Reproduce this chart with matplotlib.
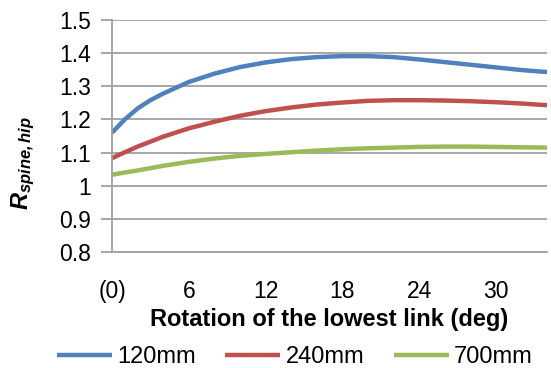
import numpy as np
import matplotlib.pyplot as plt

plt.rcParams['font.family'] = ['Liberation Sans', 'DejaVu Sans']
plt.rcParams['mathtext.fontset'] = 'custom'
plt.rcParams['mathtext.rm'] = 'Liberation Sans'
plt.rcParams['mathtext.it'] = 'Liberation Sans:italic'
plt.rcParams['mathtext.bf'] = 'Liberation Sans:bold'
plt.rcParams['mathtext.bfit'] = 'Liberation Sans:italic:bold'

# rotation of the lowest link (deg)
deg = [0, 1, 2, 3, 4, 6, 8, 10, 12, 14, 16, 18, 20, 22, 24, 26, 28, 30, 32, 34]
r_120 = [1.160, 1.200, 1.233, 1.258, 1.278, 1.313, 1.338, 1.358, 1.372, 1.382,
         1.388, 1.391, 1.391, 1.388, 1.381, 1.373, 1.365, 1.357, 1.349, 1.343]
r_240 = [1.083, 1.101, 1.118, 1.133, 1.148, 1.173, 1.193, 1.211, 1.225, 1.236,
         1.245, 1.251, 1.256, 1.258, 1.258, 1.257, 1.255, 1.252, 1.248, 1.243]
r_700 = [1.033, 1.040, 1.046, 1.053, 1.060, 1.072, 1.082, 1.090, 1.096, 1.101,
         1.106, 1.110, 1.113, 1.115, 1.117, 1.118, 1.118, 1.117, 1.116, 1.115]
labels = ['120mm', '240mm', '700mm']
colors = ['#4F81BD', '#C0504D', '#9BBB59']

x_ticks = [0, 6, 12, 18, 24, 30]
x_ticklabels = ['(0)', '6', '12', '18', '24', '30']
y_ticks = [0.8, 0.9, 1.0, 1.1, 1.2, 1.3, 1.4, 1.5]
y_ticklabels = ['0.8', '0.9', '1', '1.1', '1.2', '1.3', '1.4', '1.5']

fig = plt.figure(figsize=(5.51, 3.68), dpi=100)
ax = fig.add_axes([112 / 551, 1 - 252 / 368, 435 / 551, 232 / 368])

for ys, lab, c in zip([r_120, r_240, r_700], labels, colors):
    ax.plot(deg, ys, color=c, lw=3.2, label=lab, solid_capstyle='butt')

ax.set_xlim(0, 34)
ax.set_ylim(0.8, 1.5)
ax.set_xticks(x_ticks)
ax.set_xticklabels(x_ticklabels)
ax.set_yticks(y_ticks)
ax.set_yticklabels(y_ticklabels)
ax.tick_params(axis='x', length=0, pad=20, labelsize=16.5)
ax.tick_params(axis='y', length=8, width=1.3, color='#A0A0A0', labelsize=16.5, pad=7)

ax.grid(axis='y', color='#A0A0A0', lw=1.3)
ax.set_axisbelow(True)
for s in ['top', 'right']:
    ax.spines[s].set_visible(False)
for s in ['left', 'bottom']:
    ax.spines[s].set_color('#A0A0A0')
    ax.spines[s].set_linewidth(1.3)

ax.set_xlabel('Rotation of the lowest link (deg)', fontsize=17, fontweight='bold', labelpad=4)
fig.text(0.042, 0.556, r'$\mathbfit{R}_{\mathbfit{spine,hip}}$', fontsize=17,
         rotation=90, ha='center', va='center')

ax.legend(loc='center', bbox_to_anchor=(0.535, 0.029), bbox_transform=fig.transFigure,
          ncol=3, frameon=False, fontsize=17, handlelength=2.33, handletextpad=0.21,
          columnspacing=1.27, borderaxespad=0, borderpad=0)

fig.savefig('out.png', dpi=100)
